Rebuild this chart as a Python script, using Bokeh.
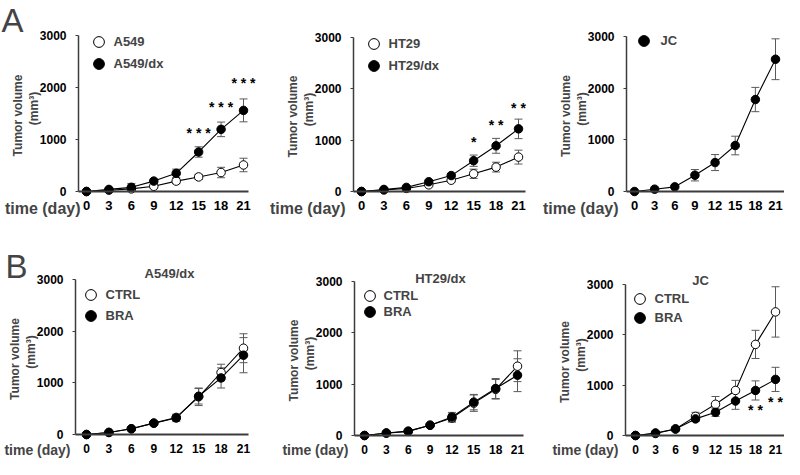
import numpy as np
from bokeh.plotting import figure
from bokeh.models import (ColumnDataSource, Whisker, Label, LabelSet, Legend,
                          LegendItem, FixedTicker, Range1d)
from bokeh.layouts import row, column
from bokeh.core.properties import value
from bokeh.embed import file_html
from bokeh.resources import INLINE

# ---------------- data ----------------
days = [0, 3, 6, 9, 12, 15, 18, 21]
y_ticks = [0, 1000, 2000, 3000]

# Panel A
a549_mean = [0, 25, 50, 100, 200, 280, 365, 510]
a549_sem = [0, 10, 20, 30, 50, 50, 100, 130]
a549dx_mean = [0, 40, 80, 200, 350, 760, 1195, 1560]
a549dx_sem = [0, 15, 75, 40, 80, 100, 140, 220]
ht29_mean = [0, 30, 60, 130, 220, 345, 475, 670]
ht29_sem = [0, 10, 15, 20, 30, 90, 95, 135]
ht29dx_mean = [0, 40, 80, 190, 310, 600, 890, 1220]
ht29dx_sem = [0, 10, 20, 30, 40, 110, 145, 190]
jc_mean = [0, 45, 90, 315, 560, 890, 1780, 2560]
jc_sem = [0, 10, 15, 110, 155, 180, 235, 395]

# Panel B
a549dx_ctrl_mean = [0, 40, 110, 220, 330, 730, 1200, 1670]
a549dx_ctrl_sem = [0, 10, 20, 30, 60, 170, 160, 280]
a549dx_bra_mean = [0, 40, 110, 220, 320, 740, 1095, 1535]
a549dx_bra_sem = [0, 10, 20, 30, 70, 150, 195, 340]
ht29dx_ctrl_mean = [0, 45, 80, 200, 340, 630, 900, 1350]
ht29dx_ctrl_sem = [0, 10, 20, 30, 80, 160, 190, 300]
ht29dx_bra_mean = [0, 50, 85, 200, 360, 650, 915, 1175]
ht29dx_bra_sem = [0, 10, 20, 30, 90, 150, 195, 320]
jc_ctrl_mean = [0, 40, 130, 380, 620, 895, 1810, 2455]
jc_ctrl_sem = [0, 10, 20, 80, 155, 200, 280, 500]
jc_bra_mean = [0, 50, 130, 330, 460, 685, 895, 1115]
jc_bra_sem = [0, 10, 20, 50, 80, 165, 190, 240]

# significance marks
a549_star_day = [15, 18, 21]
a549_star_y = [1120, 1620, 2080]
a549_star_text = ["* * *", "* * *", "* * *"]
ht29_star_day = [15, 18, 21]
ht29_star_y = [970, 1300, 1620]
ht29_star_text = ["*", "* *", "* *"]
jc_star_day = [18, 21]
jc_star_y = [500, 665]
jc_star_text = ["* *", "* *"]

# ---------------- styling ----------------
FONT = "Liberation Sans"
AXC = "#3c3c3c"
ERRC = "#5a5a5a"


def panel(g, series, stars=None, leg=None, title=None, letter=None,
          tick_size="13px", time_size="16px", time_y=210):
    fw = g["fR"] - g["fl"]
    fh = g["fB"] - g["fT"]
    ppd = (g["d21"] - g["d0"]) / 21.0
    k = (g["y0"] - g["y3"]) / 3000.0

    def X(px):
        return (px - g["d0"]) / ppd

    def Y(py):
        return (g["y0"] - py) / k

    p = figure(frame_width=fw, frame_height=fh,
               min_border_left=0, min_border_right=0,
               min_border_top=0, min_border_bottom=0,
               x_range=Range1d(X(g["fl"]), X(g["fR"])),
               y_range=Range1d(Y(g["fB"]), Y(g["fT"])),
               output_backend="svg", toolbar_location=None, tools="")
    p.outline_line_color = None
    p.grid.visible = False
    p.background_fill_color = "white"
    p.border_fill_color = "white"

    # x axis, drawn at y = 0
    p.xaxis.fixed_location = 0
    p.xaxis.bounds = (X(g["ax"]), X(g["fr"]))
    p.xaxis.ticker = FixedTicker(ticks=days)
    p.xaxis.axis_line_color = AXC
    p.xaxis.axis_line_width = 2
    p.xaxis.major_tick_line_color = None
    p.xaxis.major_tick_out = 0
    p.xaxis.major_tick_in = 0
    p.xaxis.minor_tick_line_color = None
    p.xaxis.major_label_standoff = 9
    p.xaxis.major_label_text_font = FONT
    p.xaxis.major_label_text_font_style = "bold"
    p.xaxis.major_label_text_font_size = tick_size
    p.xaxis.major_label_text_color = "black"

    # y axis at the left end of the x axis
    p.yaxis.fixed_location = X(g["ax"])
    p.yaxis.ticker = FixedTicker(ticks=y_ticks)
    p.yaxis.bounds = (0, 3000)
    p.yaxis.axis_line_color = AXC
    p.yaxis.axis_line_width = 1.5
    p.yaxis.major_tick_line_color = AXC
    p.yaxis.major_tick_out = 3
    p.yaxis.major_tick_in = 0
    p.yaxis.minor_tick_line_color = None
    p.yaxis.major_label_standoff = 9
    p.yaxis.major_label_text_font = FONT
    p.yaxis.major_label_text_font_style = "bold"
    p.yaxis.major_label_text_font_size = "12px"
    p.yaxis.major_label_text_color = "black"

    # error bars
    for (lab, mean, sem, filled) in series:
        src = ColumnDataSource(dict(x=days,
                                    up=[m + e for m, e in zip(mean, sem)],
                                    lo=[m - e for m, e in zip(mean, sem)]))
        w = Whisker(base="x", upper="up", lower="lo", source=src,
                    dimension="height", line_color=ERRC, line_width=1,
                    level="underlay")
        w.upper_head.size = 8
        w.lower_head.size = 8
        w.upper_head.line_color = ERRC
        w.lower_head.line_color = ERRC
        p.add_layout(w)

    for (lab, mean, sem, filled) in series:
        p.line(days, mean, line_color="black", line_width=1.1)

    rends = {}
    for want_filled in (False, True):
        for (lab, mean, sem, filled) in series:
            if filled != want_filled:
                continue
            r = p.scatter(days, mean, marker="circle", size=8.5,
                          fill_color="black" if filled else "white",
                          line_color="black", line_width=1)
            rends[lab] = r

    # legend: one entry per Legend so each row can be placed freely
    if leg is not None:
        for (lab, mean, sem, filled), (mx, my) in zip(series, leg["pos"]):
            vx = mx - 13.5 - g["fl"]
            vy = g["fB"] - my - 13.5
            L = Legend(items=[LegendItem(label=lab, renderers=[rends[lab]])],
                       location=(vx, vy), margin=0, padding=0, spacing=0,
                       glyph_width=27, glyph_height=27, label_height=12,
                       label_standoff=leg["standoff"], label_text_font=FONT,
                       label_text_font_style="bold",
                       label_text_font_size="13px",
                       border_line_color=None, background_fill_alpha=0)
            p.add_layout(L)

    if stars is not None:
        sd, sy, st = stars
        ssrc = ColumnDataSource(dict(x=sd, y=sy, t=st))
        p.add_layout(LabelSet(x="x", y="y", text="t", source=ssrc,
                              text_align="center", text_baseline="middle",
                              text_font=value(FONT), text_font_style="bold",
                              text_font_size="14px", text_color="black"))

    # y axis title (two lines, rotated)
    ymid = (g["y0"] + g["y3"]) / 2.0
    p.add_layout(Label(x=X(g["ax"] - 61), y=Y(ymid + 2), text="Tumor volume",
                       angle=np.pi / 2, text_align="center",
                       text_baseline="middle", text_font=FONT,
                       text_font_style="bold", text_font_size="12px"))
    p.add_layout(Label(x=X(g["ax"] - 45), y=Y(ymid - 5), text="(mm³)",
                       angle=np.pi / 2, text_align="center",
                       text_baseline="middle", text_font=FONT,
                       text_font_style="bold", text_font_size="12px"))

    # "time (day)" on the tick-label row
    p.add_layout(Label(x=X(g["time_r"]), y=Y(time_y), text="time (day)",
                       text_align="right", text_baseline="middle",
                       text_font=FONT, text_font_style="bold",
                       text_font_size=time_size))

    if title is not None:
        p.add_layout(Label(x=X(title[1]), y=Y(title[2]), text=title[0],
                           text_align="center", text_baseline="middle",
                           text_font=FONT, text_font_style="bold",
                           text_font_size="13px"))
    if letter is not None:
        p.add_layout(Label(x=X(letter[1]), y=Y(letter[2]), text=letter[0],
                           text_align="left", text_baseline="middle",
                           text_font=FONT, text_font_size="33px"))
    return p


# geometry in window pixels (page content starts at about x=2, y=2)
TOP = dict(fT=2, fB=219)
BOT = dict(fT=219, fB=461)
C1 = dict(fl=2, fR=268)
C2 = dict(fl=268, fR=540)
C3 = dict(fl=540, fR=786)

gA1 = dict(**TOP, **C1, ax=80, fr=250, d0=88, d21=245, y0=193, y3=37, time_r=82)
gA2 = dict(**TOP, **C2, ax=355, fr=527, d0=363, d21=520, y0=193, y3=39, time_r=347)
gA3 = dict(**TOP, **C3, ax=628, fr=786, d0=636, d21=777, y0=193, y3=38, time_r=620)
gB1 = dict(**BOT, **C1, ax=77, fr=250, d0=88, d21=245, y0=436, y3=281, time_r=72)
gB2 = dict(**BOT, **C2, ax=356, fr=525, d0=366, d21=519, y0=437, y3=283, time_r=350)
gB3 = dict(**BOT, **C3, ax=627, fr=786, d0=637, d21=777, y0=437, y3=286, time_r=620)

pA1 = panel(gA1, [("A549", a549_mean, a549_sem, False),
                  ("A549/dx", a549dx_mean, a549dx_sem, True)],
            stars=(a549_star_day, a549_star_y, a549_star_text),
            leg=dict(pos=[(100, 43), (100, 65)], standoff=2),
            letter=("A", 3, 22))
pA2 = panel(gA2, [("HT29", ht29_mean, ht29_sem, False),
                  ("HT29/dx", ht29dx_mean, ht29dx_sem, True)],
            stars=(ht29_star_day, ht29_star_y, ht29_star_text),
            leg=dict(pos=[(375, 45), (375, 67)], standoff=2))
pA3 = panel(gA3, [("JC", jc_mean, jc_sem, True)],
            leg=dict(pos=[(645, 42)], standoff=4))
pB1 = panel(gB1, [("CTRL", a549dx_ctrl_mean, a549dx_ctrl_sem, False),
                  ("BRA", a549dx_bra_mean, a549dx_bra_sem, True)],
            leg=dict(pos=[(92, 296), (92, 317)], standoff=2),
            title=("A549/dx", 171, 275), letter=("B", 7, 268),
            tick_size="12px", time_size="14px", time_y=451)
pB2 = panel(gB2, [("CTRL", ht29dx_ctrl_mean, ht29dx_ctrl_sem, False),
                  ("BRA", ht29dx_bra_mean, ht29dx_bra_sem, True)],
            leg=dict(pos=[(371, 297), (371, 313)], standoff=1),
            title=("HT29/dx", 442, 280),
            tick_size="12px", time_size="14px", time_y=451)
pB3 = panel(gB3, [("CTRL", jc_ctrl_mean, jc_ctrl_sem, False),
                  ("BRA", jc_bra_mean, jc_bra_sem, True)],
            stars=(jc_star_day, jc_star_y, jc_star_text),
            leg=dict(pos=[(641, 300), (641, 319)], standoff=2),
            title=("JC", 702, 282),
            tick_size="12px", time_size="14px", time_y=451)

layout = column(row(pA1, pA2, pA3, spacing=0), row(pB1, pB2, pB3, spacing=0),
                spacing=0)
open("out.html", "w").write(file_html(layout, INLINE))
